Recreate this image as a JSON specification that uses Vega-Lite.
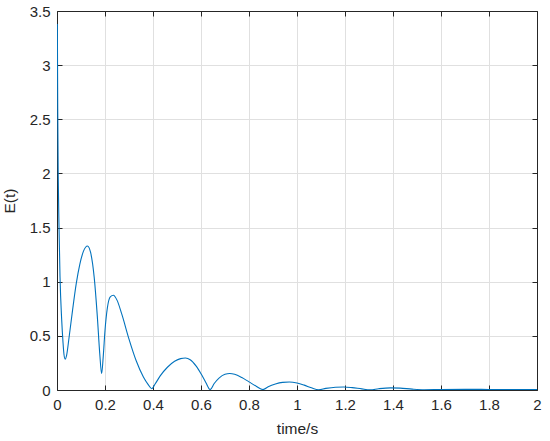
{
  "$schema": "https://vega.github.io/schema/vega-lite/v6.json",
  "width": 480,
  "height": 379,
  "autosize": {"type": "none"},
  "padding": {"left": 57, "top": 11, "right": 13, "bottom": 51},
  "background": "white",
  "config": {
    "view": {"stroke": null},
    "font": "Liberation Sans",
    "axis": {
      "labelFont": "Liberation Sans",
      "titleFont": "Liberation Sans",
      "labelFontSize": 15,
      "titleFontSize": 15.5,
      "titleFontWeight": "normal",
      "labelColor": "#262626",
      "titleColor": "#262626",
      "domainColor": "#262626",
      "tickColor": "#262626",
      "gridColor": "#e0e0e0",
      "gridOpacity": 1,
      "domainWidth": 1,
      "tickWidth": 1,
      "format": "~g"
    }
  },
  "data": {"values": [
    {"t": 0.0015, "E": 3.38},
    {"t": 0.003, "E": 2.6},
    {"t": 0.005, "E": 2.0},
    {"t": 0.008, "E": 1.55},
    {"t": 0.0125, "E": 1.05},
    {"t": 0.0195, "E": 0.65},
    {"t": 0.025, "E": 0.44},
    {"t": 0.029, "E": 0.33},
    {"t": 0.034, "E": 0.285},
    {"t": 0.04, "E": 0.32},
    {"t": 0.05, "E": 0.48},
    {"t": 0.065, "E": 0.74},
    {"t": 0.08, "E": 0.98},
    {"t": 0.095, "E": 1.16},
    {"t": 0.11, "E": 1.28},
    {"t": 0.127, "E": 1.33},
    {"t": 0.14, "E": 1.27},
    {"t": 0.155, "E": 1.04},
    {"t": 0.168, "E": 0.68},
    {"t": 0.178, "E": 0.34},
    {"t": 0.186, "E": 0.15},
    {"t": 0.193, "E": 0.32},
    {"t": 0.2, "E": 0.55},
    {"t": 0.21, "E": 0.76},
    {"t": 0.222, "E": 0.86},
    {"t": 0.235, "E": 0.875},
    {"t": 0.25, "E": 0.83},
    {"t": 0.27, "E": 0.7},
    {"t": 0.3, "E": 0.47},
    {"t": 0.33, "E": 0.27},
    {"t": 0.36, "E": 0.12},
    {"t": 0.38, "E": 0.05},
    {"t": 0.395, "E": 0.012},
    {"t": 0.41, "E": 0.06},
    {"t": 0.43, "E": 0.13},
    {"t": 0.46, "E": 0.21},
    {"t": 0.49, "E": 0.265},
    {"t": 0.515, "E": 0.29},
    {"t": 0.535, "E": 0.295},
    {"t": 0.555, "E": 0.28},
    {"t": 0.58, "E": 0.22},
    {"t": 0.6, "E": 0.15},
    {"t": 0.62, "E": 0.07},
    {"t": 0.638, "E": 0.004},
    {"t": 0.655, "E": 0.06},
    {"t": 0.675, "E": 0.11},
    {"t": 0.7, "E": 0.145},
    {"t": 0.72, "E": 0.152},
    {"t": 0.74, "E": 0.145},
    {"t": 0.77, "E": 0.115},
    {"t": 0.8, "E": 0.075},
    {"t": 0.83, "E": 0.035},
    {"t": 0.858, "E": 0.004},
    {"t": 0.88, "E": 0.03},
    {"t": 0.91, "E": 0.055},
    {"t": 0.94, "E": 0.07},
    {"t": 0.968, "E": 0.074},
    {"t": 1.0, "E": 0.065},
    {"t": 1.03, "E": 0.045},
    {"t": 1.06, "E": 0.02},
    {"t": 1.09, "E": 0.002},
    {"t": 1.12, "E": 0.015},
    {"t": 1.16, "E": 0.026},
    {"t": 1.195, "E": 0.028},
    {"t": 1.23, "E": 0.022},
    {"t": 1.27, "E": 0.01},
    {"t": 1.305, "E": 0.002},
    {"t": 1.34, "E": 0.012},
    {"t": 1.39, "E": 0.02},
    {"t": 1.43, "E": 0.017},
    {"t": 1.48, "E": 0.008},
    {"t": 1.53, "E": 0.003},
    {"t": 1.6, "E": 0.005},
    {"t": 1.7, "E": 0.006},
    {"t": 1.8, "E": 0.005},
    {"t": 1.9, "E": 0.004},
    {"t": 2.0, "E": 0.003}
  ]},
  "layer": [
    {
      "mark": {"type": "line", "color": "#0072BD", "strokeWidth": 1.1, "clip": true, "interpolate": "monotone"},
      "encoding": {
        "x": {"field": "t", "type": "quantitative", "scale": {"domain": [0, 2], "nice": false, "zero": false},
          "axis": {"title": "time/s", "values": [0, 0.2, 0.4, 0.6, 0.8, 1, 1.2, 1.4, 1.6, 1.8, 2], "tickSize": -5, "labelPadding": 12, "titlePadding": 9, "labelFlush": false}},
        "y": {"field": "E", "type": "quantitative", "scale": {"domain": [0, 3.5], "nice": false},
          "axis": {"title": "E(t)", "values": [0, 0.5, 1, 1.5, 2, 2.5, 3, 3.5], "tickSize": -5, "labelPadding": 12, "titlePadding": 12, "labelFlush": false}}
      }
    },
    {
      "mark": {"type": "line", "opacity": 0},
      "encoding": {
        "x": {"field": "t", "type": "quantitative", "scale": {"domain": [0, 2], "nice": false, "zero": false},
          "axis": {"orient": "top", "title": null, "labels": false, "grid": false, "values": [0, 0.2, 0.4, 0.6, 0.8, 1, 1.2, 1.4, 1.6, 1.8, 2], "tickSize": -5}},
        "y": {"field": "E", "type": "quantitative", "scale": {"domain": [0, 3.5], "nice": false},
          "axis": {"orient": "right", "title": null, "labels": false, "grid": false, "values": [0, 0.5, 1, 1.5, 2, 2.5, 3, 3.5], "tickSize": -5}}
      }
    }
  ],
  "resolve": {"axis": {"x": "independent", "y": "independent"}}
}
